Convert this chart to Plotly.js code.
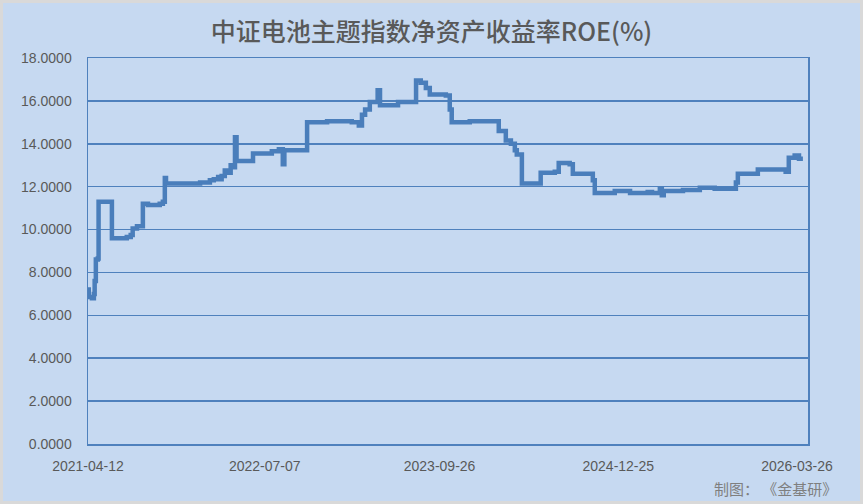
<!DOCTYPE html>
<html>
<head>
<meta charset="utf-8">
<script src="https://cdn.plot.ly/plotly-3.0.1.min.js"></script>
<style>
html,body{margin:0;padding:0;background:#C6D9F1;}
#wrap{position:relative;width:863px;height:504px;}
#chart{width:863px;height:504px;}
#frame{position:absolute;left:0;top:0;width:863px;height:504px;box-sizing:border-box;border:3px solid #D9D9D9;pointer-events:none;}
</style>
</head>
<body>
<div id="wrap"><div id="chart"></div><div id="frame"></div></div>
<script>
const chartTitle = "中证电池主题指数净资产收益率ROE(%)";
const footerText = "制图： 《金基研》";
const tickDates = ["2021-04-12","2022-07-07","2023-09-26","2024-12-25","2026-03-26"];
const dates = [
"2021-04-12","2021-04-14","2021-04-22","2021-04-27","2021-04-29","2021-05-02","2021-05-07","2021-05-09",
"2021-06-12","2021-07-20","2021-07-30","2021-08-04","2021-08-15","2021-08-30","2021-09-12","2021-10-12",
"2021-10-20","2021-10-25","2021-10-28","2022-01-23","2022-02-17","2022-02-27","2022-03-10","2022-03-14",
"2022-03-19","2022-03-27","2022-04-06","2022-04-11","2022-04-17","2022-04-22","2022-04-26","2022-06-07",
"2022-07-25","2022-08-12","2022-08-22","2022-08-26","2022-10-23","2022-12-13","2023-02-14","2023-03-04",
"2023-03-12","2023-03-20","2023-04-01","2023-04-21","2023-04-27","2023-06-12","2023-07-28","2023-08-09",
"2023-08-22","2023-09-01","2023-10-12","2023-10-22","2023-10-27","2023-12-12","2024-02-24","2024-03-13",
"2024-03-26","2024-04-05","2024-04-10","2024-04-23","2024-06-10","2024-07-16","2024-07-26","2024-08-23",
"2024-08-31","2024-10-21","2024-10-26","2024-12-16","2025-01-24","2025-03-10","2025-03-21","2025-04-10",
"2025-04-15","2025-04-20","2025-06-08","2025-07-21","2025-08-28","2025-10-21","2025-10-26","2025-12-16",
"2026-02-25","2026-03-05","2026-03-20","2026-03-31","2026-04-10"
];
const roe = [
7.2,6.85,6.8,7.0,7.6,8.6,8.65,11.3,
9.6,9.65,9.75,10.05,10.15,11.2,11.15,11.2,
11.3,12.4,12.15,12.2,12.3,12.35,12.45,12.35,
12.5,12.75,12.65,13.0,12.9,14.3,13.2,13.55,
13.65,13.75,13.05,13.7,15.0,15.05,15.0,14.85,
15.35,15.6,15.95,16.5,15.8,15.95,16.95,16.85,
16.6,16.3,16.25,15.6,15.0,15.05,14.6,14.15,
14.0,13.7,13.5,12.15,12.65,12.7,13.1,13.05,
12.6,12.3,11.7,11.8,11.7,11.75,11.7,11.9,
11.6,11.8,11.85,11.95,11.9,12.2,12.6,12.8,
12.7,13.35,13.45,13.3,13.3
];
const blue = "#4F81BD";
const textFont = "Liberation Sans, Arial, sans-serif";
Plotly.newPlot("chart", [{
  x: dates, y: roe, type: "scatter", mode: "lines",
  line: {color: "#4A7EBB", width: 4.5, shape: "hv"},
  hoverinfo: "skip"
}], {
  width: 863, height: 504,
  paper_bgcolor: "#C6D9F1", plot_bgcolor: "#C6D9F1",
  margin: {l: 88, r: 55, t: 58, b: 60},
  showlegend: false,
  title: {text: chartTitle, x: 0.5, xanchor: "center", y: 0.937, yanchor: "middle",
          font: {family: "Noto Sans CJK SC, sans-serif", size: 25, weight: 500, color: "#595959"}},
  xaxis: {type: "date", range: ["2021-04-12", "2026-04-23"],
          tickvals: tickDates, ticktext: tickDates, ticks: "", showgrid: false,
          showline: true, mirror: true, linecolor: blue, linewidth: 1.5,
          ticklabelstandoff: 9,
          tickfont: {family: textFont, size: 14, color: "#595959"}, zeroline: false},
  yaxis: {range: [0, 18], dtick: 2, tick0: 0, tickformat: ".4f", ticks: "",
          showgrid: true, gridcolor: blue, gridwidth: 1.5,
          showline: true, mirror: true, linecolor: blue, linewidth: 1.5,
          ticklabelstandoff: 12, zeroline: false,
          tickfont: {family: textFont, size: 14, color: "#595959"}},
  annotations: [{text: footerText, xref: "paper", yref: "paper", x: 1.043, y: -0.116,
                 xanchor: "right", yanchor: "middle", showarrow: false,
                 font: {family: "Noto Sans CJK SC, sans-serif", size: 15, color: "#7F7F7F"}}]
}, {displayModeBar: false, staticPlot: true});
</script>
</body>
</html>
